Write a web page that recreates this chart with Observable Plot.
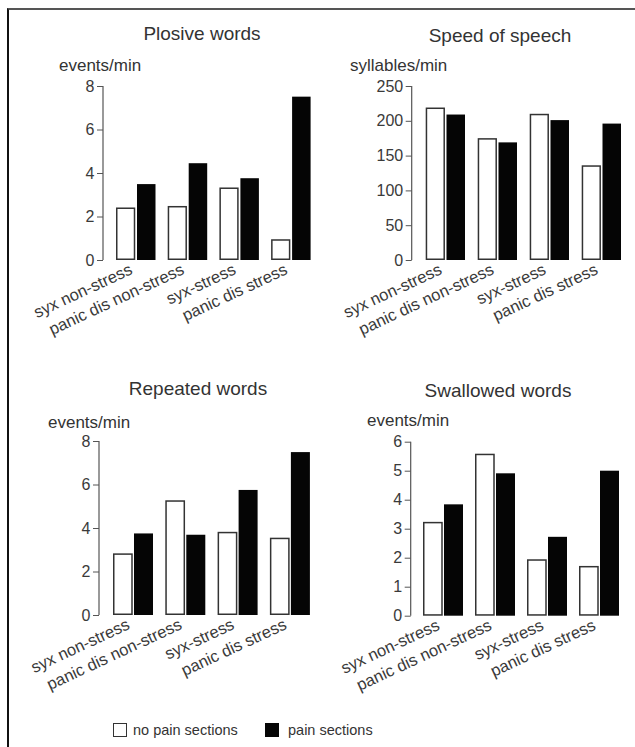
<!DOCTYPE html>
<html><head><meta charset="utf-8">
<script src="https://cdn.jsdelivr.net/npm/d3@7"></script>
<script src="https://cdn.jsdelivr.net/npm/@observablehq/plot@0.6"></script>
<style>
body{margin:0;background:#fff;font-family:"Liberation Sans",Arial,Helvetica,sans-serif;color:#333}
#page{position:relative;width:635px;height:747px;overflow:hidden;background:#fff}
.frame{position:absolute;left:7px;top:8px;right:-5px;bottom:-5px;border-top:2px solid #555;border-left:2px solid #111}
.t{position:absolute;white-space:nowrap;line-height:1}
.title{font-size:19px;transform:translate(-50%,-50%)}
.unit{font-size:17px;transform:translateY(-50%)}
.panel{position:absolute}
.panel svg{overflow:visible;background:transparent}
.sw{position:absolute;box-sizing:border-box}
.leg{font-size:14.5px;transform:translateY(-50%)}
</style></head><body><div id="page"><div class="frame"></div></div>
<script>
// ---- data ----
const categories = ["syx non-stress", "panic dis non-stress", "syx-stress", "panic dis stress"];
const series = ["no pain sections", "pain sections"];
const titles = ["Plosive words", "Speed of speech", "Repeated words", "Swallowed words"];
const units = ["events/min", "syllables/min", "events/min", "events/min"];

const plosiveNoPain = [2.38, 2.45, 3.3, 0.92];
const plosivePain = [3.49, 4.45, 3.76, 7.51];
const speedNoPain = [218, 174, 209, 135];
const speedPain = [209, 169, 201, 196];
const repeatedNoPain = [2.8, 5.24, 3.79, 3.52];
const repeatedPain = [3.75, 3.69, 5.75, 7.49];
const swallowedNoPain = [3.21, 5.56, 1.92, 1.69];
const swallowedPain = [3.84, 4.91, 2.72, 5.0];

const plosiveTicks = [0, 2, 4, 6, 8];
const speedTicks = [0, 50, 100, 150, 200, 250];
const repeatedTicks = [0, 2, 4, 6, 8];
const swallowedTicks = [0, 1, 2, 3, 4, 5, 6];

// ---- layout (page pixels) ----
const layouts = [
  {svgLeft: 0, svgTop: 0, svgW: 317, svgH: 370, axisX: 103, yTopPx: 86, y0Px: 260, firstBar: 116, pitch: 51.7, groupW: 39.5, barW: 18.5,
   titleX: 202, titleY: 33, unitX: 59, unitY: 65},
  {svgLeft: 317, svgTop: 0, svgW: 318, svgH: 370, axisX: 411.7, yTopPx: 86, y0Px: 260, firstBar: 425.7, pitch: 52, groupW: 39.3, barW: 18.5,
   titleX: 500, titleY: 35, unitX: 350, unitY: 65},
  {svgLeft: 0, svgTop: 370, svgW: 317, svgH: 330, axisX: 99, yTopPx: 441, y0Px: 615, firstBar: 113, pitch: 52.3, groupW: 40, barW: 19,
   titleX: 198, titleY: 388, unitX: 48, unitY: 422},
  {svgLeft: 317, svgTop: 370, svgW: 318, svgH: 330, axisX: 410.7, yTopPx: 441.7, y0Px: 615.7, firstBar: 423, pitch: 52, groupW: 40, barW: 19,
   titleX: 498, titleY: 390, unitX: 367, unitY: 420}
];

const page = document.getElementById("page");

function addText(cls, txt, x, y) {
  const d = document.createElement("div");
  d.className = "t " + cls;
  d.textContent = txt;
  d.style.left = x + "px";
  d.style.top = y + "px";
  page.appendChild(d);
}

function panel(k, noPain, pain, ticks) {
  const cfg = layouts[k];
  const ymax = ticks[ticks.length - 1];
  const rows = (vals, s) => categories.map((c, i) => ({cat: c, series: s, v: vals[i]}));
  const pi = 1 - cfg.groupW / cfg.pitch;
  const off = cfg.firstBar - cfg.axisX;
  const po = off / (2 * cfg.pitch);
  const rangeW = cfg.pitch * (categories.length - pi) + off;
  const marginLeft = cfg.axisX - cfg.svgLeft;
  const marginRight = cfg.svgW - marginLeft - rangeW;
  const marginTop = cfg.yTopPx - cfg.svgTop;
  const marginBottom = cfg.svgTop + cfg.svgH - cfg.y0Px;
  const inset = cfg.groupW - cfg.barW;

  const yLine = (index, scales, values, dims) => {
    const l = document.createElementNS("http://www.w3.org/2000/svg", "line");
    l.setAttribute("x1", dims.marginLeft);
    l.setAttribute("x2", dims.marginLeft);
    l.setAttribute("y1", scales.y(0));
    l.setAttribute("y2", scales.y(ymax));
    l.setAttribute("stroke", "#555");
    l.setAttribute("stroke-width", 1.2);
    return l;
  };

  const svg = Plot.plot({
    width: cfg.svgW, height: cfg.svgH,
    marginLeft, marginRight, marginTop, marginBottom,
    style: {fontFamily: '"Liberation Sans", Arial, Helvetica, sans-serif', fontSize: "16px", color: "#3a3a3a", background: "transparent", overflow: "visible"},
    x: {domain: categories, paddingInner: pi, paddingOuter: po, align: 1, round: false, label: null},
    y: {domain: [0, ymax], label: null},
    marks: [
      Plot.barY(rows(noPain, series[0]), {x: "cat", y: "v", fill: "#fff", stroke: "#333", strokeWidth: 1.5, insetRight: inset, insetLeft: 0.75, insetBottom: 0.75}),
      Plot.barY(rows(pain, series[1]), {x: "cat", y: "v", fill: "#050505", insetLeft: inset}),
      Plot.axisY(ticks, {tickSize: 6, tickPadding: 3, fontSize: 16, stroke: "#555", fill: "#3a3a3a", label: null}),
      Plot.axisX({tickSize: 0, tickPadding: 8, tickRotate: -25, dx: -5, fontSize: 16.5, fill: "#3a3a3a", label: null}),
      yLine
    ]
  });
  const wrap = document.createElement("div");
  wrap.className = "panel";
  wrap.style.left = cfg.svgLeft + "px";
  wrap.style.top = cfg.svgTop + "px";
  wrap.appendChild(svg);
  page.appendChild(wrap);
  addText("title", titles[k], cfg.titleX, cfg.titleY);
  addText("unit", units[k], cfg.unitX, cfg.unitY);
}

panel(0, plosiveNoPain, plosivePain, plosiveTicks);
panel(1, speedNoPain, speedPain, speedTicks);
panel(2, repeatedNoPain, repeatedPain, repeatedTicks);
panel(3, swallowedNoPain, swallowedPain, swallowedTicks);

// legend
const sw1 = document.createElement("div");
sw1.className = "sw";
Object.assign(sw1.style, {left: "113px", top: "723px", width: "14px", height: "14px", border: "1.5px solid #333", background: "#fff"});
page.appendChild(sw1);
addText("leg", series[0], 133, 730);
const sw2 = document.createElement("div");
sw2.className = "sw";
Object.assign(sw2.style, {left: "265px", top: "723px", width: "14px", height: "14px", background: "#050505"});
page.appendChild(sw2);
addText("leg", series[1], 288, 730);
</script>
</body></html>
